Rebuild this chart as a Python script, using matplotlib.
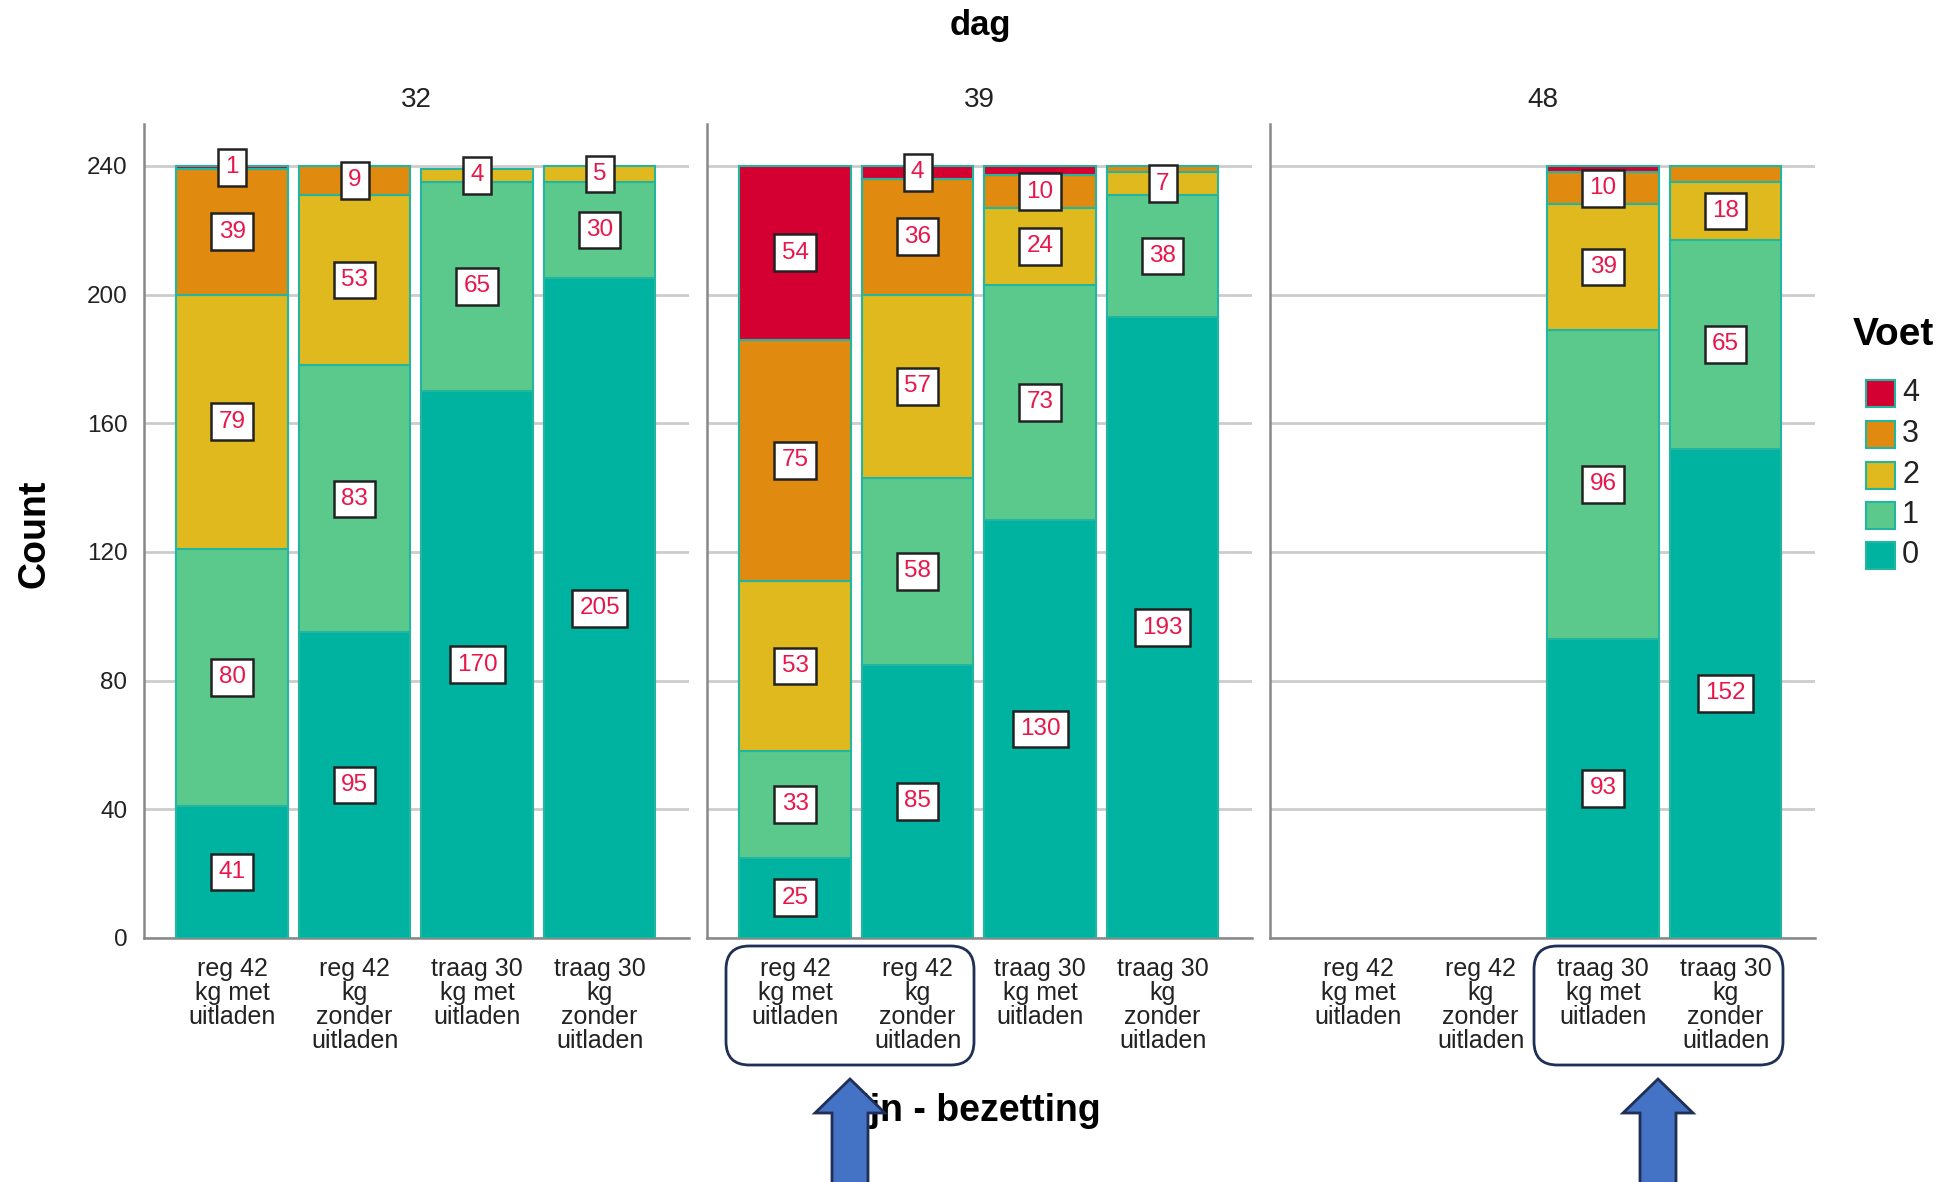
import numpy as np
import matplotlib
matplotlib.use("Agg")
import matplotlib.pyplot as plt
from matplotlib.patches import FancyBboxPatch, Polygon, Rectangle

plt.rcParams["font.family"] = ["Liberation Sans", "DejaVu Sans"]

# ---- data ----
days = ["32", "39", "48"]
groups = ["reg 42\nkg met\nuitladen", "reg 42\nkg\nzonder\nuitladen",
          "traag 30\nkg met\nuitladen", "traag 30\nkg\nzonder\nuitladen"]
voet = ["0", "1", "2", "3", "4"]
colors = ["#00B2A0", "#5CC98C", "#E0B91E", "#E08A10", "#D50032"]

# counts[day][group] = [voet0, voet1, voet2, voet3, voet4]
counts_32 = [[41, 80, 79, 39, 1], [95, 83, 53, 9, 0], [170, 65, 4, 0, 0], [205, 30, 5, 0, 0]]
counts_39 = [[25, 33, 53, 75, 54], [85, 58, 57, 36, 4], [130, 73, 24, 10, 3], [193, 38, 7, 2, 0]]
counts_48 = [[0, 0, 0, 0, 0], [0, 0, 0, 0, 0], [93, 96, 39, 10, 2], [152, 65, 18, 5, 0]]
counts = [counts_32, counts_39, counts_48]
# segments whose label is hidden in the reference (day index, group index, voet index)
hidden = [(1, 2, 4), (1, 3, 3), (2, 2, 4), (2, 3, 3)]

W, H = 1946, 1182
fig = plt.figure(figsize=(W / 100, H / 100), dpi=100)

def fx(px): return px / W
def fy(py): return 1 - py / H

lefts = [144, 707, 1270]
pw = 545
top, bot = 124, 938
x = np.arange(len(groups))

for d, ax_left in enumerate(lefts):
    ax = fig.add_axes([fx(ax_left), fy(bot), pw / W, (bot - top) / H])
    data = np.array(counts[d], dtype=float)
    base = np.zeros(len(groups))
    for k in range(len(voet)):
        vals = data[:, k]
        m = vals > 0
        ax.bar(x[m], vals[m], bottom=base[m], width=0.91, color=colors[k],
               edgecolor="#22B5A0", linewidth=1.5, zorder=3)
        for g in range(len(groups)):
            if vals[g] > 0 and (d, g, k) not in hidden:
                ax.text(x[g], base[g] + vals[g] / 2, f"{int(vals[g])}",
                        ha="center", va="center", color="#E8174B", fontsize=17.5,
                        zorder=5,
                        bbox=dict(boxstyle="square,pad=0.3", fc="white",
                                  ec="#222222", lw=1.8))
        base += vals
    ax.set_xlim(-0.72, 3.73)
    ax.set_ylim(0, 253)
    ax.set_yticks(np.arange(0, 241, 40))
    ax.yaxis.grid(True, color="#cccccc", lw=2, zorder=0)
    ax.set_axisbelow(True)
    ax.set_xticks(x)
    ax.set_xticklabels(groups, fontsize=18, linespacing=1.0, color="#222222")
    ax.tick_params(axis="both", length=0)
    ax.tick_params(axis="x", pad=14)
    if d == 0:
        ax.tick_params(axis="y", labelsize=17.5, pad=12, labelcolor="#222222")
    else:
        ax.set_yticklabels([])
    for s in ("top", "right"):
        ax.spines[s].set_visible(False)
    for s in ("left", "bottom"):
        ax.spines[s].set_color("#888888")
        ax.spines[s].set_linewidth(1.8)
    ax.set_title(days[d], fontsize=20, pad=12, color="#222222")

fig.text(fx(980), fy(25), "dag", ha="center", va="center", fontsize=25, fontweight="bold")
fig.text(fx(35), fy(534), "Count", ha="center", va="center", rotation=90,
         fontsize=27, fontweight="bold")
fig.text(fx(975), fy(1111), "lijn - bezetting", ha="center", va="center",
         fontsize=27, fontweight="bold")

# legend
fig.text(fx(1893), fy(335), "Voet", ha="center", va="center", fontsize=28, fontweight="bold")
ys = [393, 434, 475, 515, 555]
for k, yy in zip(range(4, -1, -1), ys):
    fig.patches.append(Rectangle((fx(1866), fy(yy + 14)), 29 / W, 27 / H,
                                 transform=fig.transFigure, fc=colors[k],
                                 ec="#22B5A0", lw=1.5))
    fig.text(fx(1902), fy(yy), voet[k], ha="left", va="center", fontsize=22, color="#222222")

# annotation boxes around tick labels
for x0, x1 in [(726, 974), (1534, 1783)]:
    fig.patches.append(FancyBboxPatch((fx(x0), fy(1065)), (x1 - x0) / W, (1065 - 946) / H,
                                      boxstyle="round,pad=0,rounding_size=0.012",
                                      transform=fig.transFigure, fc="none",
                                      ec="#1F2F55", lw=2, mutation_aspect=W / H))

# blue arrows
for cx in [850, 1658]:
    pts = [(cx, 1079), (cx + 35, 1113), (cx + 18, 1113), (cx + 18, 1190),
           (cx - 18, 1190), (cx - 18, 1113), (cx - 35, 1113)]
    fig.patches.append(Polygon([(fx(a), fy(b)) for a, b in pts], closed=True,
                               transform=fig.transFigure, fc="#4472C4",
                               ec="#1F2F55", lw=2, zorder=10))

fig.savefig("out.png", dpi=100)
